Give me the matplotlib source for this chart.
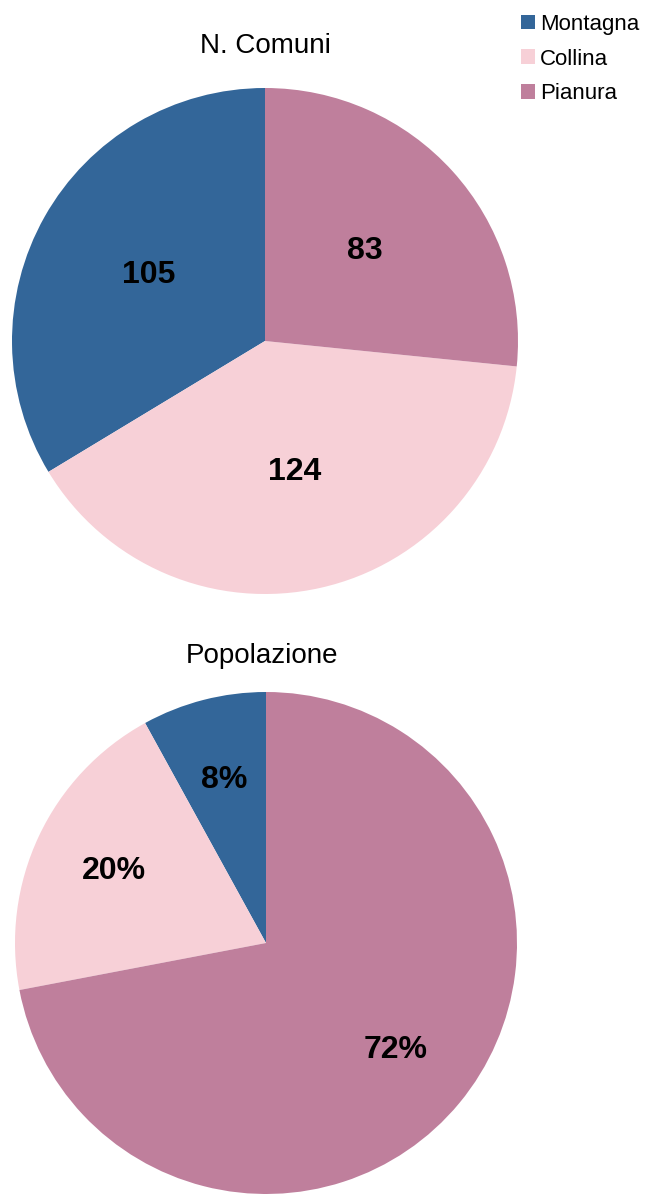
import matplotlib.pyplot as plt

plt.rcParams['font.family'] = ['Liberation Sans', 'DejaVu Sans']

# data
categories = ["Montagna", "Collina", "Pianura"]
n_comuni = [105, 124, 83]
popolazione = [8, 20, 72]  # percent
colors = ["#336699", "#F7D0D7", "#BF7F9C"]

W, H = 645, 1194
fig = plt.figure(figsize=(W / 100, H / 100), dpi=100)


def pie_axes(cx, cy, r):
    # axes box in figure fraction from pixel centre and radius
    return fig.add_axes([(cx - r) / W, 1 - (cy + r) / H, 2 * r / W, 2 * r / H])


def draw_pie(ax, values, fmt, dist):
    wedges, texts, autotexts = ax.pie(
        values, colors=colors, startangle=90, counterclock=True,
        autopct=fmt, pctdistance=dist,
        wedgeprops=dict(linewidth=0),
        textprops=dict(fontsize=23, fontweight="bold", color="black"))
    ax.set_xlim(-1, 1)
    ax.set_ylim(-1, 1)
    return wedges


# top pie: absolute counts
total = sum(n_comuni)
ax1 = pie_axes(265, 341, 253)
wedges = draw_pie(ax1, n_comuni, lambda p: "%d" % round(p * total / 100), 0.53)

# bottom pie: population share
ax2 = pie_axes(266, 943, 251)
draw_pie(ax2, popolazione, lambda p: "%d%%" % round(p), 0.67)

fig.text(265 / W, 1 - 46 / H, "N. Comuni", ha="center", va="center", fontsize=20)
fig.text(262 / W, 1 - 656 / H, "Popolazione", ha="center", va="center", fontsize=20)

fig.legend(wedges, categories, loc="upper left", bbox_to_anchor=(512 / W, 1 - 5 / H),
           frameon=False, fontsize=16, handlelength=0.65, handleheight=0.65,
           handletextpad=0.2, labelspacing=0.62, borderaxespad=0)

fig.savefig("out.png", dpi=100)
